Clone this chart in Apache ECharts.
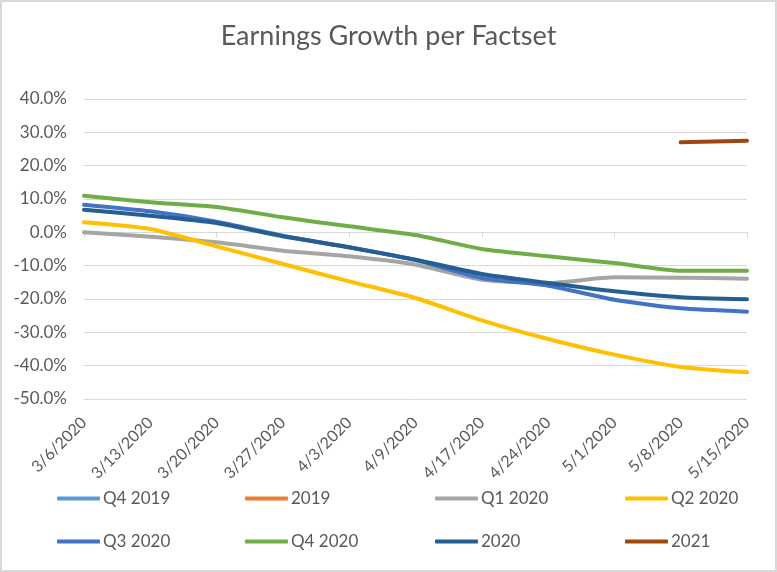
<!DOCTYPE html>
<html>
<head>
<meta charset="utf-8">
<script src="https://cdn.jsdelivr.net/npm/echarts@6/dist/echarts.min.js"></script>
<style>
html,body{margin:0;padding:0;background:#fff;}
#wrap{width:777px;height:572px;box-sizing:border-box;border:2px solid #d9d9d9;position:relative;overflow:hidden;}
#chart{position:absolute;left:-2px;top:-2px;width:777px;height:572px;}
</style>
</head>
<body>
<div id="wrap"><div id="chart"></div></div>
<script>
const titleText = 'Earnings Growth per Factset';
const categories = ['3/6/2020','3/13/2020','3/20/2020','3/27/2020','4/3/2020','4/9/2020','4/17/2020','4/24/2020','5/1/2020','5/8/2020','5/15/2020'];
const seriesNames = ['Q4 2019','2019','Q1 2020','Q2 2020','Q3 2020','Q4 2020','2020','2021'];
const q42019 = [null,null,null,null,null,null,null,null,null,null,null];
const y2019 = [null,null,null,null,null,null,null,null,null,null,null];
const q12020 = [0.0,-1.3,-3.0,-5.5,-7.2,-9.7,-14.2,-15.2,-13.5,-13.6,-13.9];
const q22020 = [3.0,1.0,-4.2,-9.5,-14.7,-19.7,-26.4,-32.0,-36.7,-40.4,-42.0];
const q32020 = [8.3,6.3,3.2,-1.0,-4.5,-8.3,-13.7,-16.0,-20.2,-22.8,-23.8];
const q42020 = [11.0,9.0,7.6,4.5,1.8,-0.8,-5.0,-7.2,-9.2,-11.5,-11.5];
const y2020 = [6.8,5.0,2.8,-1.2,-4.5,-8.2,-12.5,-15.2,-17.7,-19.5,-20.1];
const y2021 = [null,null,null,null,null,null,null,null,null,27.0,27.5];
const seriesData = [q42019,y2019,q12020,q22020,q32020,q42020,y2020,y2021];
const colors = ['#5B9BD5','#ED7D31','#A5A5A5','#FFC000','#4472C4','#70AD47','#255E91','#9E480E'];
const yTicks = {min:-50,max:40,interval:10};

const FONT = 'Lato';
const TXT = '#595959';
const legendCols = [57,245,435,625];
const legendRows = [490,533];

const chart = echarts.init(document.getElementById('chart'), null, {renderer:'canvas'});
const legends = seriesNames.map((n,i)=>({
  data:[n],
  left: legendCols[i%4],
  top: legendRows[Math.floor(i/4)],
  icon:'roundRect',
  itemWidth:43,
  itemHeight:4,
  itemGap:0,
  padding:0,
  selectedMode:false,
  textStyle:{fontFamily:FONT,fontSize:17,color:TXT,padding:[0,0,0,-2]}
}));
chart.setOption({
  animation:false,
  color:colors,
  title:{text:titleText,left:'center',top:18,textStyle:{fontFamily:FONT,fontSize:27,fontWeight:'normal',color:TXT}},
  legend:legends,
  grid:{left:84,right:30,top:99,bottom:173,containLabel:false},
  xAxis:[{
    type:'category',data:categories,boundaryGap:false,
    axisLine:{onZero:true,lineStyle:{color:'#d9d9d9',width:1}},
    axisTick:{show:true,length:5,lineStyle:{color:'#d9d9d9'}},
    axisLabel:{show:false}
  },{
    type:'category',data:categories,boundaryGap:false,position:'bottom',
    axisLine:{show:false,onZero:false},axisTick:{show:false},
    axisLabel:{rotate:45,margin:21,fontFamily:FONT,fontSize:16,color:TXT,interval:0}
  }],
  yAxis:{
    type:'value',min:yTicks.min,max:yTicks.max,interval:yTicks.interval,
    axisLine:{show:false},axisTick:{show:false},
    splitLine:{lineStyle:{color:'#d9d9d9',width:1}},
    axisLabel:{fontFamily:FONT,fontSize:17,color:TXT,margin:17,formatter:v=>v.toFixed(1)+'%'}
  },
  series:seriesNames.map((n,i)=>({
    name:n,type:'line',data:seriesData[i],xAxisIndex:0,
    showSymbol:false,symbol:'none',smooth:0.2,connectNulls:false,
    lineStyle:{width:4,color:colors[i],cap:'round',join:'round'},
    itemStyle:{color:colors[i]}
  }))
});
</script>
</body>
</html>
